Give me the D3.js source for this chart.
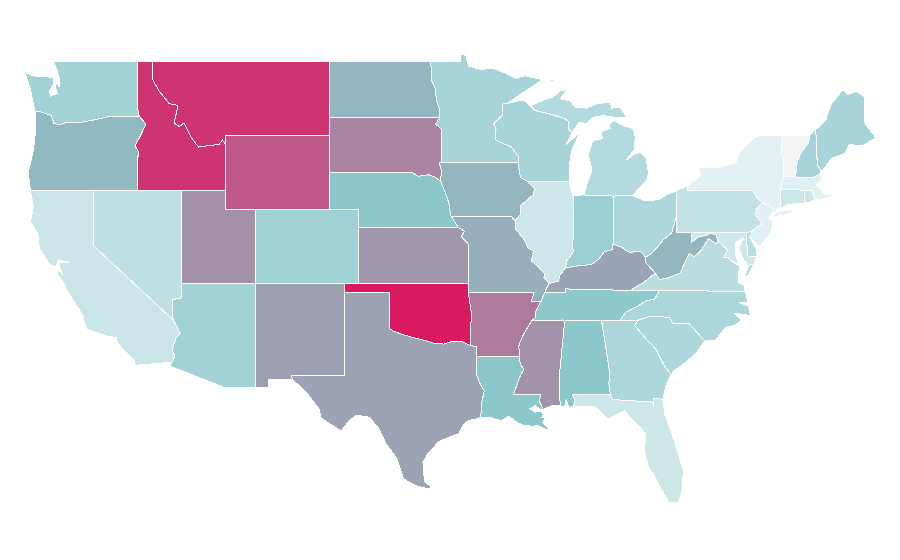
<!DOCTYPE html>
<html>
<head>
<meta charset="utf-8">
<title>US states choropleth</title>
<script src="https://cdn.jsdelivr.net/npm/d3@7"></script>
<style>
  html, body { margin: 0; background: #fff; }
  svg { display: block; }
  .state { stroke: #fff; stroke-width: 1px; shape-rendering: crispEdges; }
</style>
</head>
<body>
<div id="map"></div>
<script>
// values
var stateNames = ["Washington","Oregon","California","Nevada","Idaho","Montana","Wyoming","Utah","Arizona","Colorado","New Mexico","North Dakota","South Dakota","Nebraska","Kansas","Oklahoma","Texas","Minnesota","Iowa","Missouri","Arkansas","Louisiana","Wisconsin","Illinois","Michigan","Indiana","Ohio","Kentucky","Tennessee","Mississippi","Alabama","Georgia","Florida","South Carolina","North Carolina","Virginia","West Virginia","Maryland","Delaware","Pennsylvania","New Jersey","New York","Connecticut","Rhode Island","Massachusetts","Vermont","New Hampshire","Maine"];
var stateValues = [39,54,21,25.5,92.5,92.5,82,66,39,40,61.5,55,69,50,64,100,60.5,37,55.5,57,72,50,37,19.4,31,42,34,60,48.5,65,50,34,19,34,35,28,55,18,29,24,10,8.4,19,21,9.5,0,37,37];

// shared borders, lon/lat
var columbia = [[-124,46.25],[-123.6,46.25],[-123.2,46.15],[-122.9,46.05],[-122.8,45.85],[-122.7,45.62],[-122.3,45.55],[-121.9,45.68],[-121.2,45.65],[-120.6,45.72],[-119.9,45.83],[-119.3,45.93],[-118.98,46],[-116.92,46]];
var snake = [[-116.92,46],[-116.47,45.6],[-116.85,44.95],[-117.22,44.4],[-117.03,44.2],[-116.95,43.95],[-117.03,43.8],[-117.03,42]];
var idahoMontana = [[-116.05,49],[-116.05,48.05],[-115.6,47.4],[-114.9,46.7],[-114.3,46.6],[-114.56,45.65],[-114.2,45.45],[-113.9,45.65],[-113.4,44.85],[-112.9,44.35],[-111.5,44.5],[-111.3,44.73],[-111.05,44.47]];
var redRiverND = [[-97.23,49],[-97.1,48.5],[-97.15,48],[-96.85,47.5],[-96.8,46.9],[-96.55,46.3],[-96.56,45.94]];
var sdMinn = [[-96.56,45.94],[-96.85,45.6],[-96.45,45.3],[-96.45,43.5]];
var bigSioux = [[-96.45,43.5],[-96.6,43.5],[-96.45,43.1],[-96.5,42.5]];
var missouriSD = [[-104.05,43],[-98.5,43],[-98,42.77],[-97.3,42.85],[-96.9,42.73],[-96.5,42.5]];
var missouriNE = [[-96.5,42.5],[-96.35,42.2],[-96.1,41.7],[-95.9,41.2],[-95.85,40.7],[-95.77,40.58]];
var missouriKS = [[-95.77,40.58],[-95.3,40],[-94.9,39.8],[-95.1,39.5],[-94.62,39.1]];
var redRiverTX = [[-100,34.56],[-99.7,34.4],[-99.2,34.25],[-98.6,34.1],[-98.1,34],[-97.5,33.88],[-97,33.75],[-96.3,33.7],[-95.7,33.85],[-95.1,33.85],[-94.48,33.62]];
var sabine = [[-94.04,33.02],[-94.04,31.99],[-93.8,31.5],[-93.55,31.18],[-93.7,30.6],[-93.72,30.1],[-93.85,29.7]];
var mississippiLA = [[-91.55,31],[-91.1,32],[-90.85,32.35],[-91.1,32.6],[-91.17,33]];
var mississippiAR = [[-91.17,33],[-91.2,33.6],[-91.1,33.85],[-90.9,34.2],[-90.45,34.8],[-90.3,35]];
var mississippiTN = [[-90.3,35],[-90.1,35.1],[-90.1,35.4],[-89.7,36]];
var mississippiMO = [[-89.7,36],[-89.45,36.5]];
var mississippiKY = [[-89.45,36.5],[-89.15,36.98]];
var mississippiIL = [[-89.15,36.98],[-89.5,37.3],[-89.45,37.5],[-89.9,37.9],[-90.35,38.2],[-90.2,38.75],[-90.6,38.9],[-90.75,39.25],[-91.4,39.9],[-91.45,40.37]];
var mississippiIA = [[-91.45,40.37],[-91.1,40.7],[-91.1,41.2],[-90.6,41.5],[-90.2,41.8],[-90.15,42.1],[-90.64,42.51]];
var mississippiWI = [[-90.64,42.51],[-91.1,42.7],[-91.2,43.2],[-91.22,43.5]];
var stCroix = [[-91.22,43.5],[-91.25,43.85],[-91.7,44.35],[-92.3,44.55],[-92.8,44.75],[-92.75,45.3],[-92.9,45.6],[-92.3,46.1],[-92.3,46.67],[-92,46.7]];
var pearl = [[-89.73,31],[-89.8,30.6],[-89.55,30.18]];
var wabash = [[-87.53,39.35],[-87.6,39.1],[-87.5,38.7],[-87.95,38.2],[-88.05,37.8]];
var ohioIL = [[-88.05,37.8],[-88.45,37.4],[-88.5,37.1],[-89.15,36.98]];
var ohioIN = [[-84.82,39.1],[-84.85,38.8],[-85.4,38.7],[-85.8,38.27],[-86.3,38],[-86.8,37.95],[-87.5,37.9],[-88.05,37.8]];
var ohioOH = [[-82.6,38.4],[-83,38.73],[-83.7,38.65],[-84.3,38.95],[-84.82,39.1]];
var ohioWV = [[-80.52,40.64],[-80.6,40.4],[-80.85,39.7],[-81.4,39.35],[-81.75,39],[-82.2,38.6],[-82.6,38.4]];
var bigSandy = [[-82.6,38.4],[-82.6,38.1],[-81.97,37.54]];
var kyVa = [[-81.97,37.54],[-82.7,37.05],[-83.67,36.6]];
var tnNc = [[-81.68,36.59],[-82,36.13],[-82.6,36.03],[-83.1,35.77],[-84,35.4],[-84.32,34.99]];
var vaWv = [[-81.97,37.54],[-81.68,37.2],[-81.2,37.25],[-80.3,37.52],[-79.65,38.6],[-79.3,38.42],[-78.85,38.77],[-78.35,39.4],[-77.83,39.13],[-77.73,39.32]];
var potomac = [[-77.73,39.32],[-77.5,39.1],[-77.05,38.79],[-77.3,38.4],[-77.05,38.4],[-76.9,38.25]];
var northBranch = [[-79.48,39.2],[-79.1,39.47],[-78.45,39.6],[-78.2,39.68],[-77.83,39.6],[-77.73,39.32]];
var delaware = [[-74.7,41.36],[-75.1,41],[-75.15,40.7],[-74.75,40.2],[-75.4,39.8]];
var nyPa = [[-75.35,42],[-75.05,41.6],[-74.7,41.36]];
var connRiver = [[-71.5,45],[-71.55,44.6],[-72.05,44.1],[-72.35,43.5],[-72.46,42.73]];
var lakeChamplain = [[-73.35,45],[-73.4,44],[-73.25,43.6],[-73.28,42.75]];
var nyCtMa = [[-73.28,42.75],[-73.5,42.05],[-73.48,41.2],[-73.65,41]];
var savannah = [[-83.1,35],[-83.35,34.7],[-82.6,34],[-81.9,33.4],[-81.4,32.6],[-80.87,32.03]];
var ncSc = [[-83.1,35],[-82.3,35.2],[-81.05,35.15],[-80.93,35.1],[-80.8,34.82],[-79.67,34.8],[-78.6,33.86]];
var chattahoochee = [[-85.6,34.98],[-85.18,32.87],[-85.05,32.1],[-85.1,31.55],[-85,31]];
var stMarys = [[-84.86,30.7],[-82.2,30.57],[-82.05,30.37],[-82.05,30.75],[-81.45,30.72]];
var colorado = [[-114.63,35],[-114.15,34.3],[-114.45,34],[-114.7,33.4],[-114.52,33.03],[-114.72,32.72]];
var alMs = [[-88.2,35],[-88.1,34.9],[-88.47,31.9],[-88.4,30.35]];
var wiMi = [[-87.6,45.1],[-87.85,45.35],[-87.8,45.7],[-88.1,45.9],[-89.1,46.13],[-90.1,46.33],[-90.4,46.55]];

function r(a) { return a.slice().reverse(); }
function ring() { return [].concat.apply([], arguments); }

// rings per state, lon/lat
var outlines = {
  "Washington": [ring([[-122.76,49],[-117.03,49],[-117.03,46.42]], r(columbia), [[-124.1,46.7],[-124.3,47.5],[-124.7,48.38],[-123.9,48.15],[-123.2,48.15],[-122.75,48.1],[-122.7,47.8],[-123,47.4],[-122.95,47.1],[-122.5,47.25],[-122.6,47.6],[-122.5,47.9],[-122.35,47.6],[-122.3,47.95],[-122.5,48.5]])],
  "Oregon": [ring(columbia, snake, [[-124.3,42],[-124.45,42.95],[-124.1,44.2],[-123.95,45.2],[-123.95,46.2]])],
  "California": [ring([[-124.3,42],[-120,42],[-120,39]], colorado, [[-117.15,32.55],[-117.3,32.85],[-118.4,33.75],[-118.5,34.05],[-119.2,34.15],[-120.5,34.5],[-120.8,35.3],[-121.85,36.65],[-122,36.96],[-122.5,37.5],[-122.5,37.75],[-122.1,37.45],[-122.35,37.9],[-122.3,38.1],[-121.6,38.1],[-122.4,38.25],[-122.55,37.9],[-123,38],[-123.7,38.9],[-123.8,39.7],[-124.3,40.3],[-124.1,41.1]])],
  "Nevada": [[[-120,42],[-114.04,42],[-114.04,36.2],[-114.7,36.1],[-114.63,35],[-120,39]]],
  "Idaho": [ring([[-117.03,49]], idahoMontana, [[-111.05,42]], r(snake), [[-117.03,46.42]])],
  "Montana": [ring(idahoMontana, [[-111.05,45],[-104.05,45],[-104.05,49]])],
  "Wyoming": [[[-111.05,45],[-104.05,45],[-104.05,41],[-111.05,41]]],
  "Utah": [[[-114.04,42],[-111.05,42],[-111.05,41],[-109.05,41],[-109.05,37],[-114.04,37]]],
  "Arizona": [ring([[-114.04,37],[-109.05,37],[-109.05,31.33],[-111.07,31.33],[-114.82,32.5]], r(colorado), [[-114.7,36.1],[-114.04,36.2]])],
  "Colorado": [[[-109.05,41],[-102.05,41],[-102.05,37],[-109.05,37]]],
  "New Mexico": [[[-109.05,37],[-103,37],[-103.04,32],[-106.62,32],[-106.53,31.78],[-108.2,31.78],[-108.2,31.33],[-109.05,31.33]]],
  "North Dakota": [ring([[-104.05,49]], redRiverND, [[-104.05,45.94]])],
  "South Dakota": [ring([[-104.05,45.94]], sdMinn, bigSioux, r(missouriSD))],
  "Nebraska": [ring(missouriSD, missouriNE, [[-95.3,40],[-102.05,40],[-102.05,41],[-104.05,41]])],
  "Kansas": [ring([[-102.05,40]], missouriKS.slice(1), [[-94.62,37],[-102.04,37]])],
  "Oklahoma": [ring([[-103,37],[-94.62,37],[-94.62,36.5],[-94.43,35.4]], r(redRiverTX), [[-100,36.5],[-103,36.5]])],
  "Texas": [ring([[-103.04,36.5],[-100,36.5]], redRiverTX, [[-94.04,33.55]], sabine, [[-94.65,29.55],[-94.9,29.4],[-95.3,28.85],[-96.6,28.45],[-97.35,27.8],[-97.7,27.3],[-97.6,26.3],[-97.15,25.96],[-97.35,25.87],[-98.2,26.05],[-99,26.4],[-99.5,27.55],[-100.2,28.3],[-100.7,29.15],[-101.35,29.75],[-102.2,29.86],[-102.7,29.55],[-103.25,29],[-104.6,29.7],[-104.75,30.2],[-105.6,31.08],[-106.53,31.78],[-106.62,32],[-103.04,32]])],
  "Minnesota": [ring(redRiverND, sdMinn, stCroix, [[-90.9,47.3],[-89.6,48],[-90.8,48.2],[-91.4,48.07],[-92,48.3],[-92.9,48.6],[-93.8,48.55],[-94.6,48.72],[-94.8,49.3],[-95.15,49.38],[-95.15,49]])],
  "Iowa": [ring(bigSioux, missouriNE, [[-91.72,40.6],[-91.45,40.37]], mississippiIA, mississippiWI)],
  "Missouri": [ring(missouriKS, [[-94.62,36.5],[-90.15,36.5],[-90.37,36]], mississippiMO, mississippiKY, mississippiIL, [[-91.72,40.6]])],
  "Arkansas": [ring([[-94.62,36.5],[-90.15,36.5],[-90.37,36]], r(mississippiTN), r(mississippiAR), [[-94.04,33.02],[-94.04,33.55],[-94.48,33.62],[-94.43,35.4]])],
  "Louisiana": [ring(sabine.slice(0,1), r(mississippiLA), [[-89.73,31]], pearl, [[-89.7,30.15],[-90.1,30.38],[-90.45,30.2],[-90.1,30.02],[-89.7,30.05],[-89.5,29.9],[-89.65,29.75],[-89.4,29.75],[-89.6,29.45],[-89.15,29.1],[-89.45,29.1],[-89.9,29.3],[-90.2,29.25],[-90.85,29.3],[-91.3,29.45],[-91.9,29.8],[-92.4,29.55],[-93.2,29.75]], r(sabine))],
  "Wisconsin": [ring(mississippiWI, stCroix, [[-91.2,46.85],[-90.9,46.9]], r(wiMi), [[-88,44.5],[-87.1,45.1],[-87.55,44.3],[-87.65,44.1],[-87.8,43.2],[-87.8,42.5]])],
  "Illinois": [ring(ohioIL, mississippiIL, mississippiIA, [[-87.8,42.5],[-87.6,41.85],[-87.53,41.7]], wabash)],
  "Michigan": [
    [[-86.8,41.76],[-84.8,41.7],[-83.45,41.73],[-83.15,42.05],[-82.5,42.6],[-82.42,43],[-82.6,43.8],[-83,44.07],[-83.4,43.95],[-83.9,43.65],[-83.4,44.2],[-83.3,44.85],[-83.45,45.35],[-84.1,45.5],[-84.75,45.78],[-85.1,45.55],[-85,45.35],[-85.6,45.2],[-85.55,44.8],[-86.2,44.7],[-86.5,43.95],[-86.25,43.1],[-86.6,42.3]],
    ring(wiMi, [[-89.8,46.8],[-88.9,47.05],[-88.4,47.38],[-87.9,47.47],[-88.4,46.95],[-87.7,46.85],[-87.4,46.5],[-86.6,46.45],[-85.9,46.7],[-85,46.77],[-84.9,46.45],[-84.35,46.5],[-84.1,46.2],[-83.9,45.97],[-84.7,45.95],[-85.5,46.05],[-86.2,45.95],[-86.6,45.6],[-87.1,45.7]]),
    [[-89.2,47.9],[-88.5,48.15],[-88.9,47.9]]
  ],
  "Indiana": [ring([[-87.53,41.7],[-87.2,41.75],[-86.8,41.76],[-84.8,41.7]], ohioIN, r(wabash))],
  "Ohio": [ring([[-84.8,41.7],[-83.45,41.73],[-83.1,41.6],[-82.7,41.45],[-81.7,41.5],[-81.2,41.77],[-80.52,41.98]], ohioWV, ohioOH)],
  "Kentucky": [ring(ohioOH, ohioIN, ohioIL, r(mississippiKY), [[-88.05,36.5],[-88.07,36.68]], r(kyVa), r(bigSandy))],
  "Tennessee": [ring(mississippiMO, [[-88.05,36.5],[-88.07,36.68],[-83.67,36.6]], tnNc, mississippiTN)],
  "Mississippi": [ring(mississippiAR, alMs, [[-88.85,30.4]], r(pearl), [[-91.55,31]], mississippiLA.slice(1))],
  "Alabama": [ring(alMs.slice(0,1), chattahoochee, [[-87.6,31],[-87.4,30.65],[-87.5,30.35],[-87.8,30.25],[-88,30.7],[-88.1,30.3]], r(alMs))],
  "Georgia": [ring(chattahoochee, stMarys, [[-81.2,31.5]], r(savannah), [[-84.32,34.99]])],
  "Florida": [ring([[-87.6,31],[-85,31]], stMarys, [[-81.3,29.9],[-80.7,28.55],[-80.05,26.85],[-80.15,25.75],[-80.4,25.12],[-81,25.12],[-81.7,26.05],[-82.1,26.7],[-82.4,27],[-82.7,27.9],[-82.6,28.85],[-83.4,29.55],[-84.05,30.08],[-84.4,29.95],[-85.15,29.65],[-85.6,30],[-86.1,30.35],[-87.5,30.35],[-87.4,30.65]])],
  "South Carolina": [ring(ncSc, [[-79.2,33.2],[-79.9,32.7],[-80.7,32.25]], r(savannah))],
  "North Carolina": [ring(r(tnNc), [[-76,36.55],[-75.85,36.55],[-75.7,35.95],[-76.3,35.95],[-75.65,35.75],[-75.5,35.25],[-76.6,35.35],[-76.1,35],[-76.6,34.7],[-77.2,34.6],[-77.9,33.9]], r(ncSc))],
  "Virginia": [
    ring([[-83.67,36.6],[-81.68,36.59],[-76,36.55],[-75.9,36.55],[-75.95,36.9],[-76.3,37],[-76.3,37.5],[-76.25,37.9]], r(potomac), r(vaWv), kyVa),
    [[-75.95,37.15],[-75.65,37.95],[-75.25,38.03],[-75.6,37.5]]
  ],
  "West Virginia": [ring(r(ohioWV), [[-80.52,39.72],[-79.48,39.72]], northBranch, r(vaWv), r(bigSandy))],
  "Maryland": [ring([[-79.48,39.72],[-75.79,39.72],[-75.7,38.46],[-75.05,38.45],[-75.25,38.03],[-75.65,37.95],[-76,38.3],[-76.3,38.9],[-76,39.4],[-76.5,39.2],[-76.5,38.5],[-76.3,38.05]], r(potomac), r(northBranch))],
  "Delaware": [[[-75.79,39.72],[-75.4,39.8],[-75.55,39.5],[-75.1,38.8],[-75.05,38.45],[-75.7,38.46]]],
  "Pennsylvania": [ring([[-80.52,41.98],[-79.76,42.27],[-79.76,42]], nyPa, delaware, [[-75.79,39.72],[-80.52,39.72]])],
  "New Jersey": [ring(delaware, [[-75.55,39.5],[-74.9,38.95],[-74.1,39.75],[-73.98,40.4],[-74.25,40.5],[-73.9,41]])],
  "New York": [
    ring([[-79.76,42.27],[-79,42.7],[-78.9,42.9],[-79.05,43.27],[-77.5,43.27],[-76.5,43.5],[-76.2,44.1],[-75.3,44.85],[-74.7,45]], lakeChamplain, nyCtMa.slice(1), [[-74,40.7],[-73.9,41]], r(nyPa), [[-79.76,42]]),
    [[-74,40.6],[-73.2,40.65],[-72.3,41],[-72,41.07],[-72.6,40.97],[-73.7,40.87]]
  ],
  "Connecticut": [[[-73.5,42.05],[-71.8,42.02],[-71.85,41.32],[-72.9,41.25],[-73.65,41],[-73.48,41.2]]],
  "Rhode Island": [[[-71.8,42.02],[-71.38,42.02],[-71.12,41.5],[-71.5,41.37],[-71.85,41.32]]],
  "Massachusetts": [[[-73.5,42.05],[-73.28,42.75],[-72.46,42.73],[-71.3,42.7],[-70.82,42.87],[-70.6,42.65],[-71.03,42.3],[-70.65,41.95],[-70.5,41.78],[-70,41.8],[-70.05,42.05],[-69.95,41.7],[-70.6,41.55],[-71.12,41.5],[-71.38,42.02],[-71.8,42.02]]],
  "Vermont": [ring(lakeChamplain.slice(0,1), connRiver, r(lakeChamplain))],
  "New Hampshire": [ring([[-71.5,45],[-71.08,45.3],[-70.98,43.4],[-70.72,43.07],[-70.82,42.87],[-71.3,42.7]], r(connRiver))],
  "Maine": [[[-71.08,45.3],[-70.4,45.8],[-70.25,46.2],[-70,46.7],[-69.23,47.46],[-68.9,47.2],[-68.3,47.35],[-67.8,47.07],[-67.8,45.7],[-67.45,45.3],[-67,44.85],[-68,44.4],[-68.8,44.5],[-69.1,44],[-70,43.75],[-70.6,43.1],[-70.72,43.07],[-70.98,43.4]]]
};

var width = 900, height = 560;

var svg = d3.select("#map").append("svg")
  .attr("width", width)
  .attr("height", height);

// the map is a plain lon/lat grid, so two linear scales do
var x = d3.scaleLinear().domain([-104, -67]).range([330, 876]);
var y = d3.scaleLinear().domain([49, 37]).range([61, 283]);

var color = d3.scaleLinear()
  .domain([0, 10, 50, 100])
  .range(["#f3f4f6", "#e0f0f2", "#8bc7cb", "#d91a60"]);

var line = d3.line()
  .x(function (d) { return x(d[0]); })
  .y(function (d) { return y(d[1]); });

svg.selectAll(".state")
  .data(stateNames)
  .enter()
  .append("path")
  .attr("class", "state")
  .attr("d", function (name) {
    return outlines[name].map(function (rg) { return line(rg) + "Z"; }).join("");
  })
  .attr("fill", function (name, i) { return color(stateValues[i]); });
</script>
</body>
</html>
